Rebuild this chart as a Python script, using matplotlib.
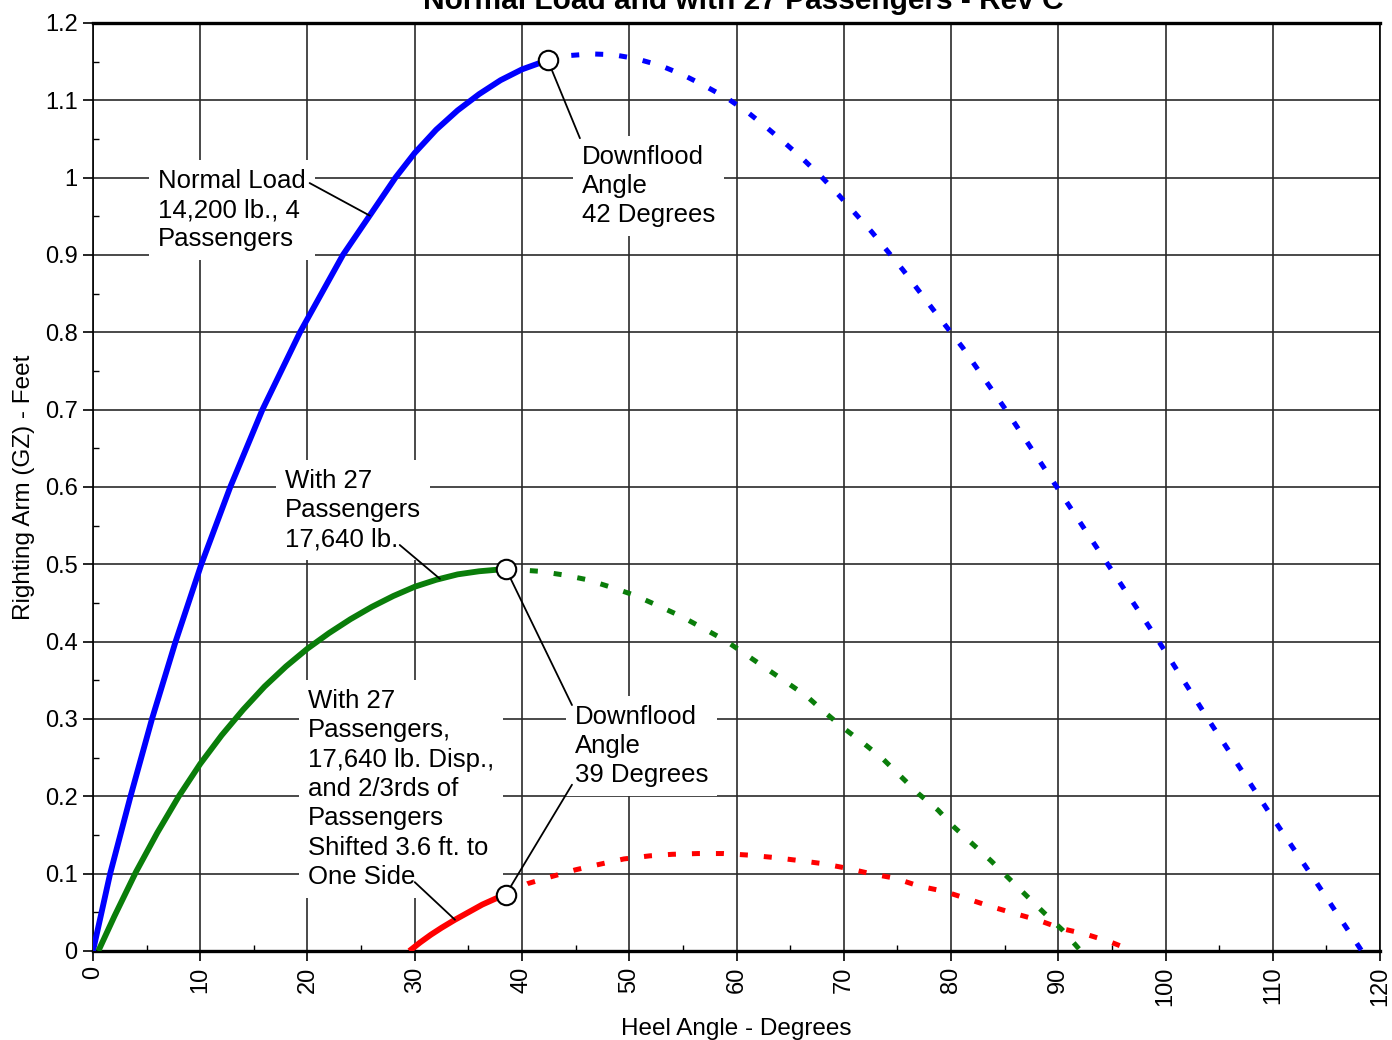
import numpy as np
import matplotlib
matplotlib.use("Agg")
import matplotlib.pyplot as plt
from matplotlib.ticker import MultipleLocator

plt.rcParams["font.family"] = ["Liberation Sans", "DejaVu Sans"]

# Normal load, 14,200 lb, 4 passengers (solid up to downflood angle)
blue_solid_x = [0, 1.6, 3.5, 5.5, 7.7, 10.1, 12.8, 15.8, 19.3, 23.3, 26.0, 28.2, 30.0, 32.0, 34.0, 36.0,
                38.0, 40.0, 42.4]
blue_solid_y = [0, 0.10, 0.20, 0.30, 0.40, 0.50, 0.60, 0.70, 0.80, 0.90, 0.955, 1.00, 1.032, 1.062, 1.087, 1.108,
                1.126, 1.140, 1.152]
blue_dash_x = [42.4, 44.5, 46.5, 48.5, 50.6, 52.9, 55.0, 57.0, 59.1, 61.0, 62.8, 64.5, 66.2, 68.0, 69.5, 72.6,
               75.5, 78.3, 81.1, 85.1, 90.0, 94.0, 99.2, 104.1, 110.0, 114.0, 118.3]
blue_dash_y = [1.152, 1.158, 1.160, 1.159, 1.154, 1.145, 1.133, 1.119, 1.103, 1.085, 1.065, 1.045, 1.024, 1.000,
               0.978, 0.930, 0.881, 0.830, 0.780, 0.700, 0.597, 0.513, 0.404, 0.297, 0.172, 0.090, 0.0]

# With 27 passengers, 17,640 lb
green_solid_x = [0.5, 2, 4, 6, 8, 10, 12, 14, 16, 18, 20, 22, 24, 26, 28, 30, 32, 34, 36, 38.5]
green_solid_y = [0, 0.045, 0.102, 0.153, 0.200, 0.242, 0.279, 0.312, 0.342, 0.368, 0.391, 0.411, 0.429, 0.445,
                 0.459, 0.471, 0.480, 0.487, 0.491, 0.494]
green_dash_x = [38.5, 41.6, 44.0, 46.1, 48.4, 50.5, 52.6, 54.8, 56.8, 58.9, 60.7, 62.7, 64.6, 66.5, 68.2, 70.0,
                71.9, 73.6, 75.3, 77.0, 78.8, 80.3, 83.7, 87.0, 88.7, 90.4, 92.1]
green_dash_y = [0.494, 0.491, 0.486, 0.480, 0.470, 0.460, 0.447, 0.433, 0.418, 0.402, 0.385, 0.366, 0.348, 0.330,
                0.309, 0.288, 0.268, 0.249, 0.226, 0.203, 0.182, 0.160, 0.117, 0.072, 0.049, 0.027, 0.0]

# With 27 passengers and 2/3rds shifted 3.6 ft to one side
red_solid_x = [29.5, 30.5, 31.5, 32.5, 33.7, 35.0, 36.3, 37.5, 38.5]
red_solid_y = [0, 0.011, 0.021, 0.030, 0.040, 0.050, 0.060, 0.0675, 0.073]
red_dash_x = [38.5, 40.5, 42.7, 45.0, 47.2, 49.5, 51.9, 54.0, 56.4, 58.8, 61.1, 63.4, 65.8, 68.0, 70.3, 72.5,
              74.8, 77.0, 79.4, 81.4, 83.6, 85.8, 88.1, 90.3, 92.5, 94.8, 97.0]
red_dash_y = [0.073, 0.087, 0.096, 0.105, 0.112, 0.119, 0.123, 0.125, 0.126, 0.126, 0.124, 0.121, 0.117, 0.113,
              0.107, 0.100, 0.094, 0.084, 0.077, 0.068, 0.058, 0.049, 0.040, 0.029, 0.022, 0.012, 0.0]

x_ticks = list(range(0, 121, 10))
y_ticks = [0, 0.1, 0.2, 0.3, 0.4, 0.5, 0.6, 0.7, 0.8, 0.9, 1.0, 1.1, 1.2]
y_tick_labels = ["0", "0.1", "0.2", "0.3", "0.4", "0.5", "0.6", "0.7", "0.8", "0.9", "1", "1.1", "1.2"]

fig = plt.figure(figsize=(13.92, 10.4), dpi=100)
ax = fig.add_axes([0.0668, 0.0856, 0.9246, 0.8923])

DASH = (1.6, 3.2)
for sx, sy, dx, dy, c in [
    (blue_solid_x, blue_solid_y, blue_dash_x, blue_dash_y, "#0000ff"),
    (green_solid_x, green_solid_y, green_dash_x, green_dash_y, "#0a7d0a"),
    (red_solid_x, red_solid_y, red_dash_x, red_dash_y, "#ff0000"),
]:
    ax.plot(sx, sy, color=c, lw=4.2, solid_capstyle="butt", solid_joinstyle="round", zorder=4)
    ax.plot(dx, dy, color=c, lw=3.6, dashes=DASH, zorder=4)

# downflood markers
for sx, sy in [(blue_solid_x, blue_solid_y), (green_solid_x, green_solid_y), (red_solid_x, red_solid_y)]:
    ax.plot(sx[-1], sy[-1], "o", ms=14, mfc="white", mec="black", mew=1.5, zorder=7)

txt = dict(fontsize=18.5, ha="left", va="center", linespacing=1.28, zorder=3,
           bbox=dict(boxstyle="square,pad=0.35", fc="white", ec="none"))
leader = dict(arrowstyle="-", color="black", lw=1.3, shrinkA=0, shrinkB=0)

ax.text(6.06, 0.958, "Normal Load\n14,200 lb., 4\nPassengers", **txt)
ax.annotate("", xy=(25.8, np.interp(25.8, blue_solid_x, blue_solid_y)), xytext=(20.2, 0.993),
            arrowprops=leader, zorder=5)

ax.text(45.6, 0.989, "Downflood\nAngle\n42 Degrees", **txt)
ax.annotate("", xy=(blue_solid_x[-1], blue_solid_y[-1]), xytext=(45.4, 1.051),
            arrowprops=leader, zorder=5)

ax.text(17.9, 0.570, "With 27\nPassengers\n17,640 lb.", **txt)
ax.annotate("", xy=(32.35, np.interp(32.35, green_solid_x, green_solid_y)), xytext=(28.6, 0.525),
            arrowprops=leader, zorder=5)

ax.text(20.05, 0.2095, "With 27\nPassengers,\n17,640 lb. Disp.,\nand 2/3rds of\nPassengers\n"
        "Shifted 3.6 ft. to\nOne Side", **txt)
ax.annotate("", xy=(33.75, np.interp(33.75, red_solid_x, red_solid_y)), xytext=(30.0, 0.089),
            arrowprops=leader, zorder=5)

ax.text(44.94, 0.265, "Downflood\nAngle\n39 Degrees", **txt)
ax.annotate("", xy=(green_solid_x[-1], green_solid_y[-1]), xytext=(44.66, 0.318),
            arrowprops=leader, zorder=5)
ax.annotate("", xy=(red_solid_x[-1], red_solid_y[-1]), xytext=(44.66, 0.215),
            arrowprops=leader, zorder=5)

ax.set_xlim(0, 120)
ax.set_ylim(0, 1.2)
ax.set_xticks(x_ticks)
ax.set_xticklabels([str(t) for t in x_ticks], rotation=90, fontsize=17)
ax.set_yticks(y_ticks)
ax.set_yticklabels(y_tick_labels, fontsize=17)
ax.xaxis.set_minor_locator(MultipleLocator(5))
ax.yaxis.set_minor_locator(MultipleLocator(0.05))
ax.tick_params(which="major", direction="out", length=7, width=1.2, pad=4)
ax.tick_params(which="minor", direction="in", length=4, width=1.0)
ax.grid(True, which="major", color="#2a2a2a", lw=1.2, zorder=1)
ax.set_axisbelow(True)

for side in ["top", "bottom"]:
    ax.spines[side].set_linewidth(2.4)
for side in ["left", "right"]:
    ax.spines[side].set_linewidth(1.2)

ax.set_xlabel("Heel Angle - Degrees", fontsize=17.5, labelpad=9)
ax.set_ylabel("Righting Arm (GZ) - Feet", fontsize=17.5, labelpad=7)

fig.text(0.534, 0.9915, "Normal Load and with 27 Passengers - Rev C",
         fontsize=21.5, fontweight="bold", ha="center", va="baseline")

fig.savefig("out.png", dpi=100)
